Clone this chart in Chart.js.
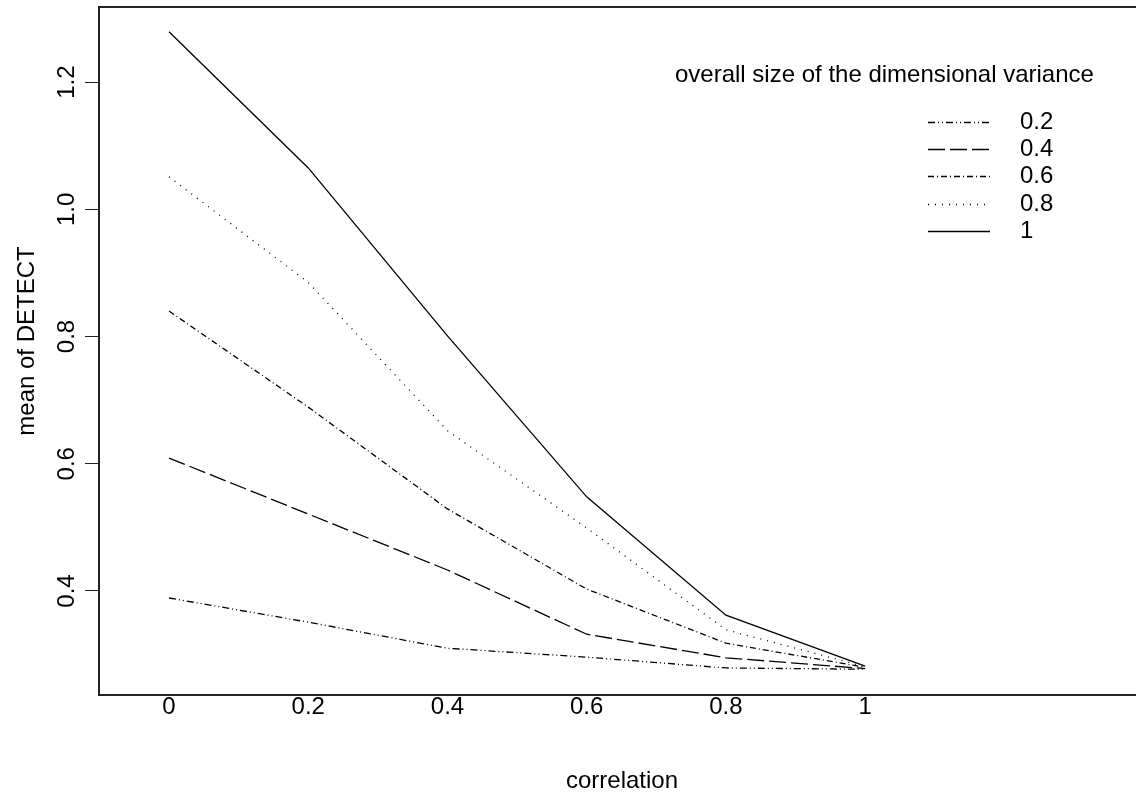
<!DOCTYPE html>
<html>
<head>
<meta charset="utf-8">
<script src="https://cdn.jsdelivr.net/npm/chart.js@4/dist/chart.umd.min.js"></script>
<style>
  html, body { margin: 0; padding: 0; overflow: hidden; background: #fff; }
  canvas { display: block; }
</style>
</head>
<body>
<canvas id="grafica" width="1146" height="798"></canvas>
<script>
// ── DATOS ─────────────────────────────────────────────
const correlation = [0, 0.2, 0.4, 0.6, 0.8, 1];
const sizeLabels  = ['0.2', '0.4', '0.6', '0.8', '1'];
const detect02 = [0.389, 0.351, 0.310, 0.296, 0.279, 0.277];
const detect04 = [0.609, 0.521, 0.433, 0.332, 0.295, 0.278];
const detect06 = [0.840, 0.689, 0.529, 0.403, 0.318, 0.280];
const detect08 = [1.051, 0.885, 0.652, 0.499, 0.339, 0.281];
const detect10 = [1.279, 1.065, 0.801, 0.548, 0.362, 0.282];
const xTicks = [0, 0.2, 0.4, 0.6, 0.8, 1];
const yTicks = [0.4, 0.6, 0.8, 1.0, 1.2];

const series = [detect02, detect04, detect06, detect08, detect10];
const dashes = [[7, 3, 1, 3, 1, 3], [17, 5], [6, 3, 1, 3], [1, 6], []];

const FONT = '"Liberation Sans", Arial, sans-serif';
const SIZE = 24;
const AXIS = '#222';
const LINE_W = 1.3;
const X_MIN = -0.1006, X_MAX = 1.402;

// ── LEYENDA Y TÍTULO Y (dibujados a mano) ─────────────
const legendBlock = {
    id: 'legendBlock',
    afterDraw(chart) {
        const ctx = chart.ctx;
        ctx.save();
        ctx.fillStyle = '#000';
        ctx.strokeStyle = '#000';
        ctx.lineWidth = LINE_W;
        ctx.font = SIZE + 'px ' + FONT;
        ctx.textBaseline = 'middle';
        ctx.textAlign = 'left';
        ctx.fillText('overall size of the dimensional variance', 675, 75);
        chart.data.datasets.forEach((ds, i) => {
            const y = Math.round(122 + i * 27.2) + 0.5;
            ctx.beginPath();
            ctx.setLineDash(ds.borderDash);
            ctx.moveTo(928, y);
            ctx.lineTo(990, y);
            ctx.stroke();
            ctx.setLineDash([]);
            ctx.fillText(ds.label, 1020, y);
        });
        // título del eje y
        ctx.translate(27, 341);
        ctx.rotate(-Math.PI / 2);
        ctx.textAlign = 'center';
        ctx.fillText('mean of DETECT', 0, 0);
        ctx.restore();
    }
};

new Chart(document.getElementById('grafica'), {
    type: 'line',
    data: {
        datasets: series.map((s, i) => ({
            label: sizeLabels[i],
            data: correlation.map((x, j) => ({ x: x, y: s[j] })),
            borderColor: '#000',
            borderWidth: LINE_W,
            borderDash: dashes[i],
            pointRadius: 0,
            fill: false,
            tension: 0
        }))
    },
    options: {
        responsive: false,
        animation: false,
        layout: { padding: { top: 7, left: 0, right: 1, bottom: 0 } },
        plugins: { legend: { display: false }, tooltip: { enabled: false } },
        scales: {
            x: {
                type: 'linear', position: 'bottom', min: X_MIN, max: X_MAX,
                afterBuildTicks: s => { s.ticks = xTicks.map(v => ({ value: v })); },
                afterFit: s => { s.height = 103; s.paddingLeft = 0; s.paddingRight = 0; },
                grid: { display: false, drawTicks: false },
                border: { display: true, color: AXIS, width: 2 },
                ticks: {
                    padding: 0, color: '#000', maxRotation: 0, autoSkip: false,
                    font: { family: FONT, size: SIZE, lineHeight: 1 },
                    callback: v => String(v)
                },
                title: {
                    display: true, text: 'correlation', color: '#000',
                    font: { family: FONT, size: SIZE }, padding: { top: 0, bottom: 2 }
                }
            },
            x2: {
                type: 'linear', position: 'top', min: X_MIN, max: X_MAX,
                afterFit: s => { s.height = 0; s.paddingLeft = 0; s.paddingRight = 0; },
                grid: { display: false, drawTicks: false },
                border: { display: true, color: AXIS, width: 2 },
                ticks: { display: false }
            },
            y: {
                type: 'linear', position: 'left', min: 0.2365, max: 1.318,
                afterBuildTicks: s => { s.ticks = yTicks.map(v => ({ value: v })); },
                afterFit: s => { s.width = 99; s.paddingTop = 0; s.paddingBottom = 0; },
                grid: { display: true, drawOnChartArea: false, drawTicks: true, tickLength: 14, color: AXIS, lineWidth: 1 },
                border: { display: true, color: AXIS, width: 2 },
                ticks: {
                    minRotation: 90, maxRotation: 90, crossAlign: 'center', padding: 1,
                    color: '#000', font: { family: FONT, size: SIZE },
                    callback: v => v.toFixed(1)
                },
                title: { display: false }
            }
        }
    },
    plugins: [legendBlock]
});
</script>
</body>
</html>
